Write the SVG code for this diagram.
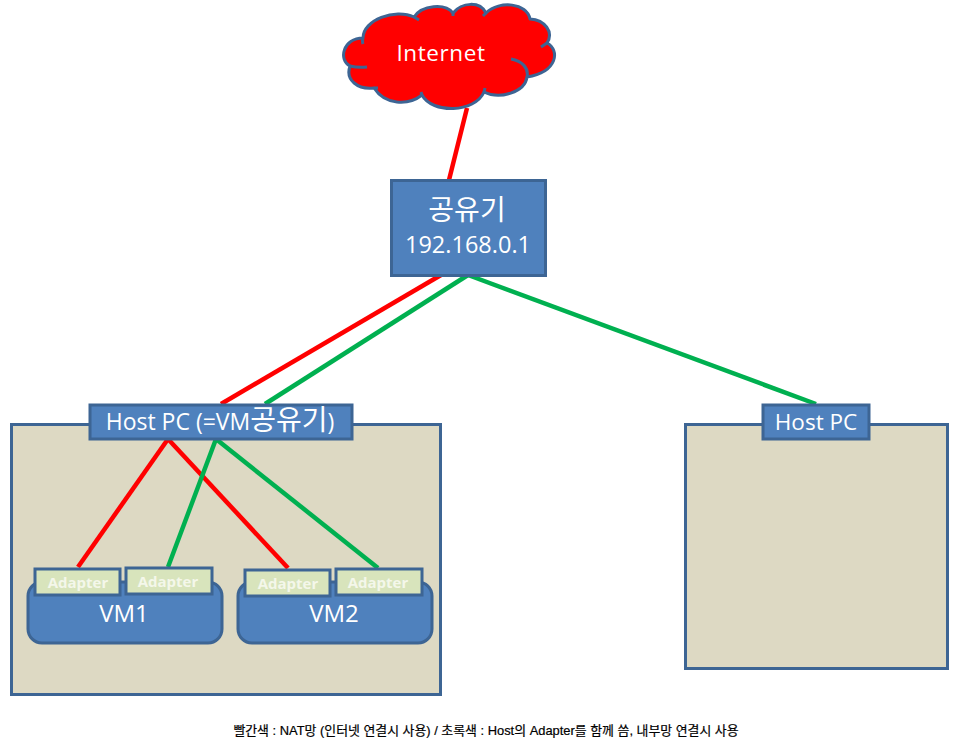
<svg xmlns="http://www.w3.org/2000/svg" width="957" height="744" viewBox="0 0 957 744">
<style>
.box{fill:#4f81bd;stroke:#3d6594;stroke-width:3}
.host{fill:#ddd9c3;stroke:#3d6594;stroke-width:3}
.ad{fill:#d8e4bc;stroke:#3d6594;stroke-width:3}
.r{stroke:#ff0000;stroke-width:4.5;fill:none}
.g{stroke:#00b050;stroke-width:4.5;fill:none}
text{font-family:"Open Sans","Noto Sans CJK KR",sans-serif;fill:#fff;text-anchor:middle}
.l{font-size:22.500px}
.v{font-size:24px}
.a{font-size:15px;font-weight:700;fill:#f4f7ea}
.c{font-family:"Liberation Sans","Noto Sans CJK KR",sans-serif;font-size:12.900px;fill:#000;stroke:#000;stroke-width:.2}
</style>
<rect width="957" height="744" fill="#fff"/>
<g id="host-left-frame"><rect class="host" x="11.500" y="424.500" width="429" height="270"/></g>
<g id="host-right-frame"><rect class="host" x="685.500" y="424.500" width="262" height="244"/></g>
<g id="connectors">
<line class="r" x1="467" y1="108" x2="449" y2="180"/>
<line class="r" x1="441" y1="275" x2="221" y2="404"/>
<line class="g" x1="468" y1="275" x2="265" y2="404"/>
<line class="g" x1="468" y1="275" x2="816" y2="404"/>
<line class="r" x1="168" y1="439" x2="78" y2="567"/>
<line class="r" x1="168" y1="439" x2="288" y2="568"/>
<line class="g" x1="216" y1="439" x2="168" y2="567"/>
<line class="g" x1="216" y1="439" x2="378" y2="568"/>
</g>
<g id="internet">
<path d="M363 38C363 20 395 8 414 17C422 5 445 3 453 13C462 2 480 1 486 13C500 0 527 3 530 19C545 20 554 32 547 43C560 50 558 72 527 77C525 92 500 100 484 92C475 113 432 114 422 95C408 106 385 105 374 88C358 90 345 80 350 66C338 60 343 38 363 38Z" fill="#ff0000" stroke="#3d6594" stroke-width="3" stroke-linejoin="round"/>
<path d="M363 38Q362 41 363 44M414 17L419 20M453 13L453 16M486 13L483 16M547 43L541 47M511 59C522 61 529 68 527 77M484 92L485 88M422 95L421 92M374 88L378 88M350 66Q358 68 367 67" fill="none" stroke="#3d6594" stroke-width="3"/>
<text class="l" x="441" y="61" letter-spacing=".6">Internet</text>
</g>
<g id="router">
<rect class="box" x="391.500" y="180.500" width="154" height="95"/>
<text x="467" y="220" font-size="28">공유기</text>
<text x="468" y="253" font-size="23.500">192.168.0.1</text>
</g>
<g id="host-left">
<rect class="box" x="90" y="405" width="262" height="34"/>
<text x="220" y="430" font-size="23">Host PC (=VM<tspan font-size="28">공유기</tspan>)</text>
</g>
<g id="host-right">
<rect class="box" x="763" y="405" width="106" height="34"/>
<text class="l" x="816" y="430">Host PC</text>
</g>
<g id="vm1">
<rect class="box" x="28" y="582" width="194" height="61" rx="14"/>
<text class="v" x="124" y="622">VM1</text>
</g>
<g id="vm2">
<rect class="box" x="238" y="582" width="194" height="61" rx="14"/>
<text class="v" x="334" y="622">VM2</text>
</g>
<g id="adapter-1"><rect class="ad" x="35" y="569" width="85" height="26"/><text class="a" x="78" y="588">Adapter</text></g>
<g id="adapter-2"><rect class="ad" x="126" y="568" width="86" height="26"/><text class="a" x="168" y="587">Adapter</text></g>
<g id="adapter-3"><rect class="ad" x="245" y="570" width="85" height="26"/><text class="a" x="288" y="589">Adapter</text></g>
<g id="adapter-4"><rect class="ad" x="336" y="569" width="86" height="26"/><text class="a" x="378" y="588">Adapter</text></g>
<text class="c" x="486" y="735">빨간색 : NAT망 (인터넷 연결시 사용) / 초록색 : Host의 Adapter를 함께 씀, 내부망 연결시 사용</text>
</svg>
